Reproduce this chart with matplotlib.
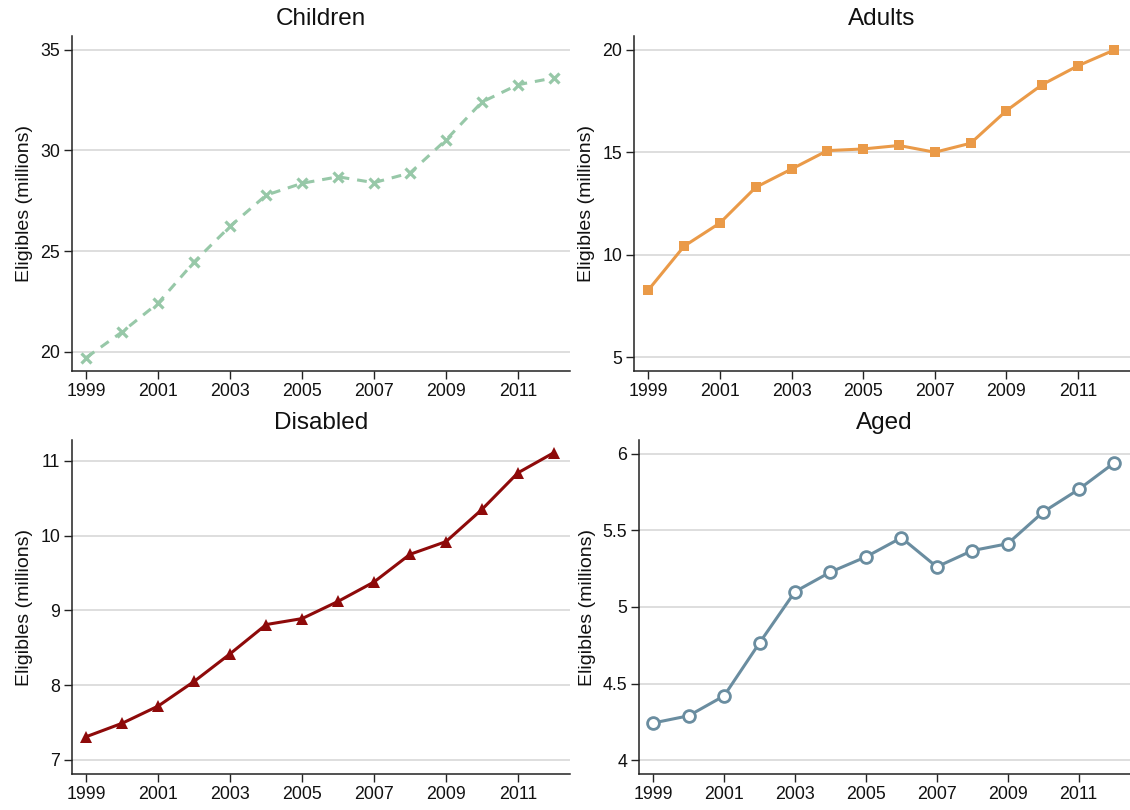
import matplotlib
matplotlib.use("Agg")
import matplotlib.pyplot as plt

years = list(range(1999, 2013))

children = [19.72, 21.0, 22.43, 24.47, 26.24, 27.78, 28.37, 28.69, 28.40, 28.88,
            30.52, 32.40, 33.26, 33.60]
adults = [8.28, 10.42, 11.55, 13.29, 14.18, 15.08, 15.16, 15.33, 15.00, 15.44,
          17.03, 18.30, 19.22, 19.98]
disabled = [7.31, 7.49, 7.72, 8.05, 8.42, 8.81, 8.89, 9.12, 9.38, 9.75,
            9.92, 10.35, 10.84, 11.11]
aged = [4.243, 4.29, 4.42, 4.766, 5.10, 5.228, 5.327, 5.452, 5.262, 5.368,
        5.413, 5.62, 5.767, 5.94]

x_ticks = [1999, 2001, 2003, 2005, 2007, 2009, 2011]

plt.rcParams['font.family'] = ['Liberation Sans', 'DejaVu Sans']

fig = plt.figure(figsize=(11.3, 8.1), dpi=100)

W, H = 1130, 810


def make_axes(left, right, top, bottom):
    return fig.add_axes([left / W, 1 - bottom / H, (right - left) / W, (bottom - top) / H])


panels = [
    dict(title="Children", data=children, box=(72, 570, 36, 371),
         yticks=[20, 25, 30, 35], ylim=(19.05, 35.68),
         color="#97C8A8", marker="x", ls=(0, (3.2, 2.6)), ms=7.5, mew=2.3, mfc="#97C8A8"),
    dict(title="Adults", data=adults, box=(634, 1130, 36, 371),
         yticks=[5, 10, 15, 20], ylim=(4.33, 20.67),
         color="#EA9A48", marker="s", ls="-", ms=7, mew=0, mfc="#EA9A48"),
    dict(title="Disabled", data=disabled, box=(72, 570, 440, 774),
         yticks=[7, 8, 9, 10, 11], ylim=(6.81, 11.28),
         color="#8E0A0A", marker="^", ls="-", ms=8, mew=0, mfc="#8E0A0A"),
    dict(title="Aged", data=aged, box=(639, 1130, 440, 774),
         yticks=[4, 4.5, 5, 5.5, 6], ylim=(3.91, 6.09),
         color="#6A8DA0", marker="o", ls="-", ms=8.5, mew=2.0, mfc="white"),
]

for p in panels:
    ax = make_axes(*p["box"])
    ax.plot(years, p["data"], color=p["color"], linestyle=p["ls"], linewidth=2.2,
            marker=p["marker"], markersize=p["ms"], markeredgewidth=p["mew"],
            markerfacecolor=p["mfc"], markeredgecolor=p["color"], zorder=3,
            clip_on=False)
    ax.set_xlim(1998.6, 2012.45)
    ax.set_ylim(*p["ylim"])
    ax.set_xticks(x_ticks)
    ax.set_xticklabels([str(t) for t in x_ticks])
    ax.set_yticks(p["yticks"])
    ax.set_yticklabels([f"{t:g}" for t in p["yticks"]])
    ax.grid(axis="y", color="#D4D4D4", linewidth=1.1, zorder=0)
    ax.set_axisbelow(True)
    for side in ("top", "right"):
        ax.spines[side].set_visible(False)
    for side in ("left", "bottom"):
        ax.spines[side].set_color("#222222")
        ax.spines[side].set_linewidth(1.1)
    ax.tick_params(axis="both", direction="out", length=6, width=1.0, color="#222222",
                   labelsize=12.8, labelcolor="#111111", pad=2.5)
    ax.set_ylabel("Eligibles (millions)", fontsize=14, color="#111111", labelpad=5)
    ax.set_title(p["title"], fontsize=17.5, color="#111111", pad=8)

fig.savefig("out.png", dpi=100, facecolor="white")
